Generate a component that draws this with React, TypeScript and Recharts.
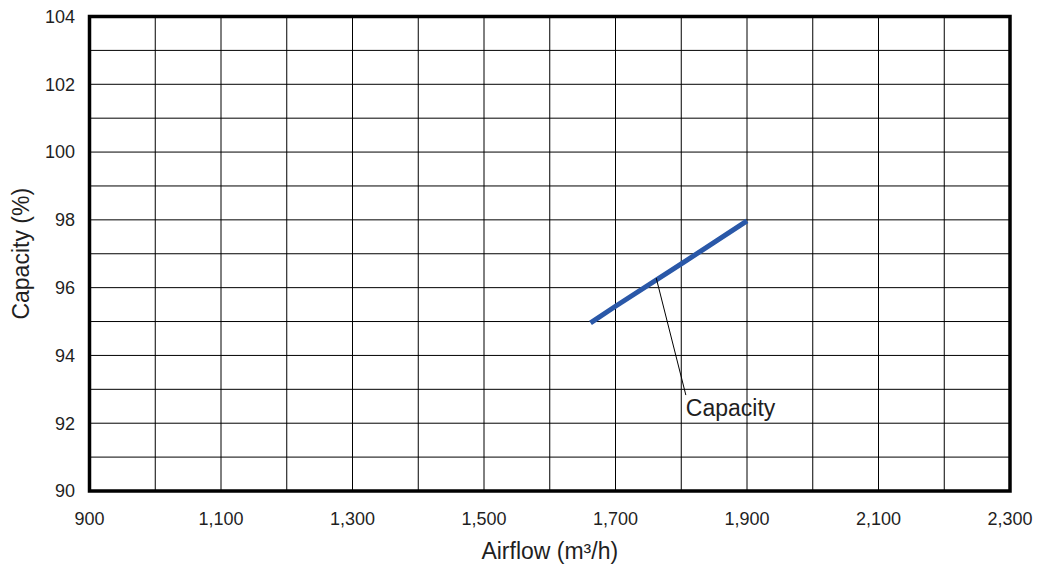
import React from 'react';
import { ComposedChart, Line, Scatter, XAxis, YAxis, CartesianGrid, ReferenceArea } from 'recharts';

// Capacity curve
const airflow = [1662, 1700, 1800, 1900];
const capacity = [94.96, 95.45, 96.7, 97.97];

// Axis ticks
const xGridTicks = [900, 1000, 1100, 1200, 1300, 1400, 1500, 1600, 1700, 1800, 1900, 2000, 2100, 2200, 2300];
const xLabelTicks = [900, 1100, 1300, 1500, 1700, 1900, 2100, 2300];
const yGridTicks = [90, 91, 92, 93, 94, 95, 96, 97, 98, 99, 100, 101, 102, 103, 104];
const yLabelTicks = [90, 92, 94, 96, 98, 100, 102, 104];

// Annotation (leader line + label)
const leaderX = [1762, 1807];
const leaderY = [96.28, 92.83];
const labelX = [1807];
const labelY = [92.2];
const labelText = 'Capacity';

const xTitle = 'Airflow (m³/h)';
const yTitle = 'Capacity (%)';

const seriesData = airflow.map((x, i) => ({ x, y: capacity[i] }));
const leaderData = leaderX.map((x, i) => ({ x, y: leaderY[i] }));
const labelData = labelX.map((x, i) => ({ x, y: labelY[i], text: labelText }));

const FONT = '"Liberation Sans", Arial, sans-serif';
const TEXT = '#1f1f1f';

const fmtX = (v: number) => (xLabelTicks.includes(v) ? v.toLocaleString('en-US') : '');
const fmtY = (v: number) => (yLabelTicks.includes(v) ? String(v) : '');

const LabelShape = (p: any) => (
  <text x={p.cx} y={p.cy} fontSize={23} fontFamily={FONT} fill={TEXT} textAnchor="start">
    {p.payload?.text ?? labelText}
  </text>
);

export default function App() {
  return (
    <div style={{ position: 'fixed', left: 0, top: 0, width: 1037, height: 576, background: '#fff' }}>
      <ComposedChart
        width={1037}
        height={576}
        margin={{ top: 16.5, right: 27, bottom: 0, left: 0 }}
      >
        <CartesianGrid stroke="#000" strokeWidth={1} />
        <XAxis
          type="number"
          dataKey="x"
          domain={[900, 2300]}
          ticks={xGridTicks}
          tickFormatter={fmtX}
          interval={0}
          allowDataOverflow
          height={85}
          axisLine={false}
          tickLine={false}
          tickMargin={15}
          tick={{ fontSize: 18, fontFamily: FONT, fill: TEXT }}
          label={{ value: xTitle, position: 'insideBottom', offset: 17, fontSize: 23, fontFamily: FONT, fill: TEXT }}
        />
        <YAxis
          type="number"
          domain={[90, 104]}
          ticks={yGridTicks}
          tickFormatter={fmtY}
          interval={0}
          allowDataOverflow
          width={89.5}
          axisLine={false}
          tickLine={false}
          tickMargin={8.5}
          tick={{ fontSize: 18, fontFamily: FONT, fill: TEXT }}
          label={{ value: yTitle, angle: -90, position: 'insideLeft', offset: 21, fontSize: 23, fontFamily: FONT, fill: TEXT, style: { textAnchor: 'middle' } }}
        />
        <ReferenceArea x1={900} x2={2300} y1={90} y2={104} fill="none" stroke="#000" strokeWidth={3.5} ifOverflow="visible" />
        <Line
          data={seriesData}
          dataKey="y"
          stroke="#2a58a8"
          strokeWidth={5}
          dot={false}
          isAnimationActive={false}
          type="linear"
        />
        <Line
          data={leaderData}
          dataKey="y"
          stroke="#000"
          strokeWidth={1}
          dot={false}
          isAnimationActive={false}
          type="linear"
        />
        <Scatter data={labelData} dataKey="y" shape={LabelShape} isAnimationActive={false} />
      </ComposedChart>
    </div>
  );
}
